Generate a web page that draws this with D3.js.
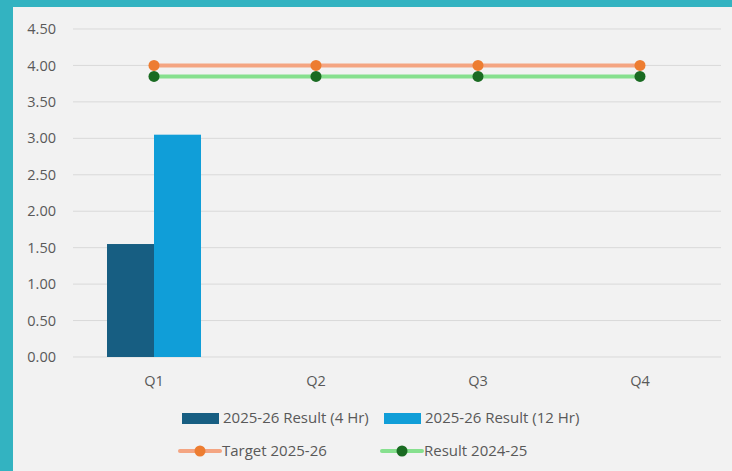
<!DOCTYPE html>
<html><head><meta charset="utf-8">
<script src="https://cdn.jsdelivr.net/npm/d3@7"></script>
<style>
html,body{margin:0;padding:0;background:#33B3C1;}
svg{display:block;}
</style></head>
<body>
<svg id="chart" width="732" height="471"></svg>
<script>
const categories = ["Q1","Q2","Q3","Q4"];
const result4Hr = [1.55, null, null, null];
const result12Hr = [3.05, null, null, null];
const target = [4.00, 4.00, 4.00, 4.00];
const result2425 = [3.85, 3.85, 3.85, 3.85];
const yTicks = [0,0.5,1,1.5,2,2.5,3,3.5,4,4.5];
const seriesNames = ["2025-26 Result (4 Hr)","2025-26 Result (12 Hr)","Target 2025-26","Result 2024-25"];

(function(){
const svg = d3.select("#chart");
const W = 732, H = 471;
svg.append("rect").attr("x",0).attr("y",0).attr("width",W).attr("height",H).attr("fill","#33B3C1");
svg.append("rect").attr("x",13).attr("y",7).attr("width",W-13).attr("height",H-7).attr("fill","#F2F2F2");

const font = "'Open Sans', 'Liberation Sans', sans-serif";
const textColor = "#595959";
const pl = 73, pr = 721, pt = 29, pb = 357;

const x = d3.scaleBand().domain(categories).range([pl,pr]);
const y = d3.scaleLinear().domain([0,4.5]).range([pb,pt]);

svg.append("g").selectAll("line").data(yTicks).join("line")
  .attr("x1",pl).attr("x2",pr)
  .attr("y1",d=>y(d)).attr("y2",d=>y(d))
  .attr("stroke","#D9D9D9").attr("stroke-width",1);

svg.append("g").selectAll("text").data(yTicks).join("text")
  .attr("x",56).attr("y",d=>y(d)).attr("dy","0.35em")
  .attr("text-anchor","end").attr("font-family",font).attr("font-size",14.5)
  .attr("fill",textColor).text(d=>d.toFixed(2));

svg.append("g").selectAll("text").data(categories).join("text")
  .attr("x",d=>x(d)+x.bandwidth()/2).attr("y",381).attr("dy","0.35em")
  .attr("text-anchor","middle").attr("font-family",font).attr("font-size",14.5)
  .attr("fill",textColor).text(d=>d);

const inner = d3.scaleBand().domain([0,1]).range([0,94]);
const barColors = ["#175E82","#109ED8"];
[result4Hr, result12Hr].forEach((vals,i)=>{
  svg.append("g").selectAll("rect").data(categories.map((c,j)=>({c,v:vals[j]})).filter(d=>d.v!=null))
    .join("rect")
    .attr("x",d=>x(d.c)+x.bandwidth()/2-47+inner(i))
    .attr("width",inner.bandwidth())
    .attr("y",d=>y(d.v)).attr("height",d=>pb-y(d.v))
    .attr("fill",barColors[i]);
});

const lineSeries = [
  {vals:target, line:"#F4A582", marker:"#ED7D31"},
  {vals:result2425, line:"#86E08E", marker:"#1A6B22"}
];
const lineGen = d3.line().x((d,i)=>x(categories[i])+x.bandwidth()/2).y(d=>y(d));
lineSeries.forEach(s=>{
  svg.append("path").datum(s.vals).attr("d",lineGen)
    .attr("fill","none").attr("stroke",s.line).attr("stroke-width",4);
});
lineSeries.forEach(s=>{
  svg.append("g").selectAll("circle").data(s.vals).join("circle")
    .attr("cx",(d,i)=>x(categories[i])+x.bandwidth()/2).attr("cy",d=>y(d))
    .attr("r",5.5).attr("fill",s.marker);
});

const lg = svg.append("g");
const legendItems = [
  {type:"bar", color:barColors[0], x:182, y:418, name:seriesNames[0]},
  {type:"bar", color:barColors[1], x:384, y:418, name:seriesNames[1]},
  {type:"line", color:lineSeries[0].line, marker:lineSeries[0].marker, x:180, y:451, name:seriesNames[2]},
  {type:"line", color:lineSeries[1].line, marker:lineSeries[1].marker, x:382, y:451, name:seriesNames[3]}
];
legendItems.forEach(it=>{
  if(it.type==="bar"){
    lg.append("rect").attr("x",it.x).attr("y",it.y-5).attr("width",37).attr("height",11).attr("fill",it.color);
    lg.append("text").attr("x",it.x+41).attr("y",it.y).attr("dy","0.35em")
      .attr("font-family",font).attr("font-size",15).attr("fill",textColor).text(it.name);
  } else {
    lg.append("line").attr("x1",it.x).attr("x2",it.x+40).attr("y1",it.y).attr("y2",it.y)
      .attr("stroke",it.color).attr("stroke-width",4).attr("stroke-linecap","round");
    lg.append("circle").attr("cx",it.x+20).attr("cy",it.y).attr("r",5.5).attr("fill",it.marker);
    lg.append("text").attr("x",it.x+42).attr("y",it.y).attr("dy","0.35em")
      .attr("font-family",font).attr("font-size",15).attr("fill",textColor).text(it.name);
  }
});
})();
</script>
</body></html>
